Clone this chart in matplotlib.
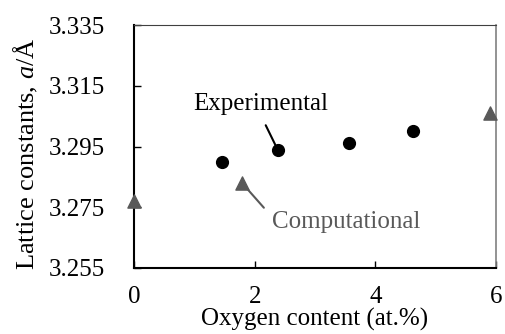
import matplotlib
matplotlib.use("Agg")
import matplotlib.pyplot as plt

# Data
exp_x = [1.46, 2.38, 3.57, 4.63]
exp_y = [3.290, 3.294, 3.296, 3.300]
comp_x = [0.0, 1.79, 5.9]
comp_y = [3.277, 3.283, 3.306]
x_ticks = [0, 2, 4, 6]
y_ticks = [3.255, 3.275, 3.295, 3.315, 3.335]

def main():
    plt.rcParams["font.family"] = ["Liberation Serif", "DejaVu Serif"]
    plt.rcParams["mathtext.fontset"] = "custom"
    plt.rcParams["mathtext.it"] = "Liberation Serif:italic"
    plt.rcParams["mathtext.rm"] = "Liberation Serif"

    fig = plt.figure(figsize=(5.05, 3.34), dpi=100)
    ax = fig.add_axes([134 / 505, 1 - 268 / 334, (496 - 134) / 505, (268 - 25) / 334])

    ax.scatter(exp_x, exp_y, s=72, color="black", marker="o", zorder=3, clip_on=False)
    ax.scatter(comp_x, comp_y, s=90, color="#595959", marker="^", zorder=3, clip_on=False)

    ax.set_xlim(0, 6)
    ax.set_ylim(3.255, 3.335)
    ax.set_xticks(x_ticks)
    ax.set_yticks(y_ticks)
    ax.set_yticklabels(["%.3f" % v for v in y_ticks])
    ax.tick_params(direction="in", labelsize=18, length=5, width=1)
    ax.tick_params(axis="x", pad=13)
    ax.tick_params(axis="y", pad=21)

    ax.spines["left"].set_linewidth(1.5)
    ax.spines["bottom"].set_linewidth(1.5)
    ax.spines["top"].set_color("#404040")
    ax.spines["top"].set_linewidth(0.8)
    ax.spines["right"].set_color("#808080")
    ax.spines["right"].set_linewidth(1.2)

    ax.set_xlabel("Oxygen content (at.%)", fontsize=18, labelpad=0)
    ax.set_ylabel("Lattice constants, $a$/Å", fontsize=19)
    ax.yaxis.set_label_coords(-0.26, 0.47)

    # Experimental label with leader line
    ax.annotate("Experimental", xy=(exp_x[1], exp_y[1]), xytext=(2.1, 3.309),
                fontsize=18, ha="center", va="center", color="black",
                arrowprops=dict(arrowstyle="-", color="black", lw=1.5,
                                shrinkA=6, shrinkB=2, relpos=(0.5, 0)))
    # Computational label with leader line
    ax.annotate("Computational", xy=(comp_x[1], comp_y[1]), xytext=(2.29, 3.2703),
                fontsize=18, ha="left", va="center", color="#595959",
                arrowprops=dict(arrowstyle="-", color="#595959", lw=1.5,
                                shrinkA=6, shrinkB=4, relpos=(0, 0.7)))

    fig.savefig("out.png", dpi=100)

if __name__ == "__main__":
    main()
